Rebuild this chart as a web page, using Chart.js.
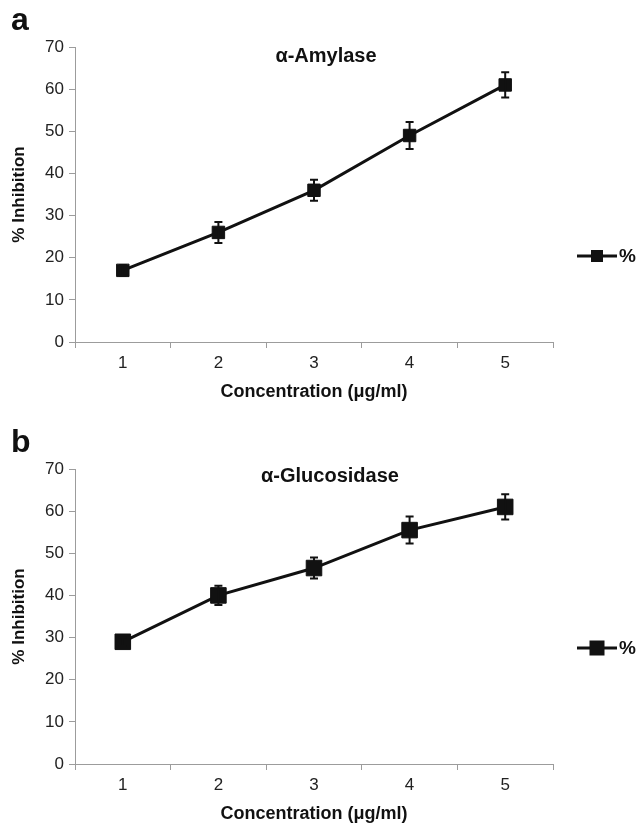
<!DOCTYPE html>
<html>
<head>
<meta charset="utf-8">
<script src="https://cdn.jsdelivr.net/npm/chart.js@4/dist/chart.umd.min.js"></script>
<style>
    body { margin: 0; width: 639px; height: 823px; overflow: hidden; background: #fff; position: relative; }
    .panel { position: absolute; left: 0; width: 639px; height: 411px; }
    .letter { position: absolute; left: 11px; font: bold 32px "Liberation Sans", Arial, sans-serif; color: #111; }
</style>
</head>
<body>
<div class="panel" style="top:0"><canvas id="chartA" width="639" height="411"></canvas></div>
<div class="panel" style="top:422px"><canvas id="chartB" width="639" height="411"></canvas></div>
<div class="letter" style="top:1px">a</div>
<div class="letter" style="top:423px">b</div>
<script>
const concentrations = ['1', '2', '3', '4', '5'];
const amylase = [17, 26, 36, 49, 61];
const amylaseErr = [1.3, 2.5, 2.5, 3.2, 3];
const glucosidase = [29, 40, 46.5, 55.5, 61];
const glucosidaseErr = [1, 2.3, 2.5, 3.2, 3];
const seriesName = '% Inhibition';

const font = '"Liberation Sans", Arial, sans-serif';
const axisGrey = '#9c9c9c';
const ink = '#111';

// error bars drawn through the chart's own scales
const errorBars = {
    id: 'errorBars',
    afterDatasetsDraw: (chart, args, opts) => {
        const ctx = chart.ctx;
        const x = chart.scales.x;
        const y = chart.scales.y;
        const ds = chart.data.datasets[0];
        ctx.save();
        ctx.strokeStyle = ink;
        ctx.lineWidth = 2;
        ds.data.forEach((v, i) => {
            const e = opts.errors[i];
            const px = x.getPixelForValue(i);
            const top = y.getPixelForValue(v + e);
            const bot = y.getPixelForValue(v - e);
            ctx.beginPath();
            ctx.moveTo(px, top);
            ctx.lineTo(px, bot);
            ctx.moveTo(px - 4, top);
            ctx.lineTo(px + 4, top);
            ctx.moveTo(px - 4, bot);
            ctx.lineTo(px + 4, bot);
            ctx.stroke();
        });
        ctx.restore();
    }
};

// title inside the plot area and the cut-off legend at the right
const extras = {
    id: 'extras',
    afterDraw: (chart, args, opts) => {
        const ctx = chart.ctx;
        ctx.save();
        ctx.fillStyle = ink;
        ctx.font = `bold 20px ${font}`;
        ctx.textAlign = 'center';
        ctx.textBaseline = 'middle';
        ctx.fillText(opts.title, opts.titleX, opts.titleY);

        const ly = opts.legendY;
        ctx.strokeStyle = ink;
        ctx.lineWidth = 3;
        ctx.beginPath();
        ctx.moveTo(577, ly);
        ctx.lineTo(617, ly);
        ctx.stroke();
        const s = opts.legendBox;
        ctx.fillRect(597 - s / 2, ly - s / 2, s, s);
        ctx.textAlign = 'left';
        ctx.font = `bold 19px ${font}`;
        ctx.fillText(seriesName, 619, ly + 1);
        ctx.restore();
    }
};

function makeChart(id, values, errors, title, opts) {
    return new Chart(document.getElementById(id), {
        type: 'line',
        data: {
            labels: concentrations,
            datasets: [{
                label: seriesName,
                data: values,
                borderColor: ink,
                borderWidth: 3,
                pointStyle: 'rect',
                pointRadius: opts.pointRadius,
                pointBackgroundColor: ink,
                pointBorderColor: ink,
                pointBorderWidth: 1,
                tension: 0
            }]
        },
        options: {
            responsive: false,
            animation: false,
            events: [],
            layout: { padding: { top: 47, right: 86, left: 0, bottom: 0 } },
            scales: {
                x: {
                    offset: true,
                    grid: { offset: true, drawOnChartArea: false, color: axisGrey, tickLength: 6 },
                    border: { color: axisGrey, width: 1 },
                    ticks: { color: '#222', font: { family: font, size: 17 }, padding: 5 },
                    title: {
                        display: true,
                        text: 'Concentration (μg/ml)',
                        color: ink,
                        font: { family: font, size: 18, weight: 'bold' },
                        padding: { top: 4, bottom: 8 }
                    },
                    afterFit: (s) => { s.height = 69; }
                },
                y: {
                    min: 0,
                    max: 70,
                    ticks: { stepSize: 10, color: '#222', font: { family: font, size: 17 }, padding: 5 },
                    grid: { drawOnChartArea: false, color: axisGrey, tickLength: 6 },
                    border: { color: axisGrey, width: 1 },
                    title: {
                        display: true,
                        text: '% Inhibition',
                        color: ink,
                        font: { family: font, size: 17, weight: 'bold' },
                        padding: { top: 9, bottom: 0 }
                    },
                    afterFit: (s) => { s.width = 75; }
                }
            },
            plugins: {
                legend: { display: false },
                tooltip: { enabled: false },
                errorBars: { errors: errors },
                extras: {
                    title: title,
                    titleX: opts.titleX,
                    titleY: opts.titleY,
                    legendY: opts.legendY,
                    legendBox: opts.legendBox
                }
            }
        },
        plugins: [errorBars, extras]
    });
}

makeChart('chartA', amylase, amylaseErr, 'α-Amylase',
    { pointRadius: 8.8, titleX: 326, titleY: 56, legendY: 256, legendBox: 12 });
makeChart('chartB', glucosidase, glucosidaseErr, 'α-Glucosidase',
    { pointRadius: 11, titleX: 330, titleY: 54, legendY: 226, legendBox: 15 });
</script>
</body>
</html>
